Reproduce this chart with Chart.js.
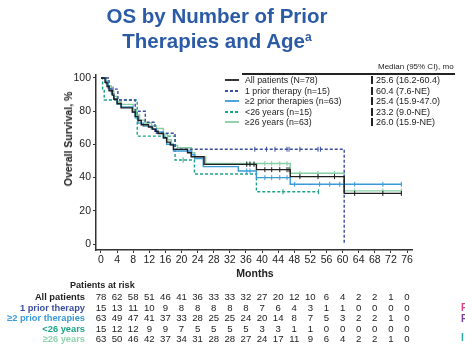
<!DOCTYPE html>
<html>
<head>
<meta charset="utf-8">
<script src="https://cdn.jsdelivr.net/npm/chart.js@4.4.0/dist/chart.umd.min.js"></script>
<style>
  body { margin: 0; width: 465px; height: 347px; overflow: hidden; background: #fff; position: relative;
         font-family: "Liberation Sans", Arial, sans-serif; color: #222; }
  #wrap { position: absolute; left: 0; top: 0; width: 465px; height: 347px; }
  .abs { position: absolute; white-space: nowrap; }
  .title { left: 0; width: 434px; text-align: center; font-weight: bold; font-size: 20.5px; color: #2b5ba6; line-height: 25px; }
  .leg { font-size: 8.8px; line-height: 10px; }
  .med { font-size: 9px; line-height: 10px; }
  .bar { position: absolute; width: 2px; height: 8px; background: #222; }
  .risklab { font-weight: bold; font-size: 9.3px; line-height: 10px; text-align: right; width: 85px; left: 0; }
  .risknum { font-size: 9.6px; line-height: 10px; width: 20px; text-align: center; }
</style>
</head>
<body>
<div id="wrap"><canvas id="km" width="465" height="347"></canvas></div>

<div class="abs title" style="top:3px">OS by Number of Prior</div>
<div class="abs title" style="top:28px">Therapies and Age<sup style="font-size:12px;vertical-align:7px;line-height:0">a</sup></div>

<div class="abs" style="left:378px;top:62px;font-size:8px;line-height:10px">Median (95% CI), mo</div>
<div class="abs" style="left:242px;top:73px;width:213px;height:1.5px;background:#222"></div>
<div id="legend"></div>

<div class="abs" id="ytitle" style="left:68px;top:139px;font-weight:bold;font-size:10.5px;transform:translate(-50%,-50%) rotate(-90deg)">Overall Survival, %</div>
<div class="abs" style="left:255px;top:273px;font-weight:bold;font-size:10.5px;transform:translate(-50%,-50%)">Months</div>
<div class="abs" style="left:70px;top:280px;font-weight:bold;font-size:9.1px;line-height:10px">Patients at risk</div>
<div id="risk"></div>

<div class="abs" style="left:461px;top:302px;font-size:10px;font-weight:bold;color:#e0408a">F</div>
<div class="abs" style="left:461px;top:313px;font-size:10px;font-weight:bold;color:#7a3d9a">P</div>
<div class="abs" style="left:461px;top:332px;font-size:10px;font-weight:bold;color:#2bb3a0">I</div>

<script>
// axes
const monthTicks = [0, 4, 8, 12, 16, 20, 24, 28, 32, 36, 40, 44, 48, 52, 56, 60, 64, 68, 72, 76];
const survTicks = [0, 20, 40, 60, 80, 100];

// KM steps: value after each event time
const allTimes = [0, 1.0, 1.5, 2.0, 2.8, 3.2, 4.0, 5.0, 7.8, 8.5, 9.2, 10.0, 11.8, 12.8, 13.6, 14.2, 15.5, 16.3, 17.2, 18.0, 21.5, 22.4, 25.6, 38.6, 47.0, 60.4, 74.7];
const allSurv = [100, 97.4, 94.9, 92.3, 89.7, 87.2, 84.6, 82.0, 79.5, 76.9, 74.4, 71.8, 70.5, 69.2, 67.9, 66.6, 64.0, 61.4, 59.7, 57.0, 55.0, 52.6, 48.0, 44.8, 40.6, 30.5, 30.5];
const allCens = [36.2, 37.0, 38.0, 40.7, 42.4, 44.4, 46.2, 46.7, 49.4, 53.9, 58.0, 63.0, 70.0, 74.6];

const onePriorTimes = [0, 2.0, 4.2, 8.5, 11.0, 13.4, 18.4, 60.4];
const onePriorSurv = [100, 93.3, 86.7, 80.0, 73.3, 66.7, 57.1, 0];
const onePriorCens = [3.0, 38.2, 41.1, 43.2, 46.2, 46.7, 49.4, 53.9, 54.5];

const twoPriorTimes = [0, 1.2, 1.8, 2.6, 3.2, 4.0, 5.0, 7.8, 8.5, 9.2, 10.5, 12.5, 13.8, 15.5, 16.3, 18.0, 22.5, 23.3, 25.4, 34.1, 38.6, 47.0, 74.7];
const twoPriorSurv = [100, 96.8, 93.7, 90.5, 87.3, 84.1, 82.5, 79.3, 76.0, 72.8, 71.0, 69.3, 67.5, 63.8, 60.1, 56.0, 53.8, 51.5, 46.6, 44.0, 40.0, 36.0, 36.0];
const twoPriorCens = [36.2, 37.0, 40.7, 42.4, 44.4, 46.2, 48.1, 54.3, 56.8, 59.3, 63.0, 70.0, 74.6];

const under26Times = [0, 0.4, 0.8, 9.0, 18.4, 23.2, 38.6, 54.0];
const under26Surv = [100, 93.3, 86.7, 65.0, 50.6, 42.2, 31.5, 31.5];
const under26Cens = [20.4, 45.2, 54.0];

const over26Times = [0, 1.2, 1.8, 2.6, 3.2, 4.0, 5.0, 8.0, 8.8, 9.6, 10.8, 12.6, 13.8, 15.5, 16.5, 17.5, 19.0, 22.5, 23.3, 26.0, 47.0, 60.4, 74.7];
const over26Surv = [100, 98.4, 95.2, 92.1, 88.9, 85.7, 84.1, 80.9, 77.7, 74.6, 72.9, 71.3, 69.6, 66.2, 62.8, 59.4, 58.0, 55.0, 52.5, 48.5, 42.6, 32.0, 32.0];
const over26Cens = [36.2, 37.0, 38.0, 40.7, 42.4, 44.4, 46.2, 49.4, 53.9, 58.0, 63.0, 70.0, 74.6];

// legend / table text
const groupLabels = ['All patients (N=78)', '1 prior therapy  (n=15)', '\u22652 prior therapies (n=63)', '<26 years (n=15)', '\u226526 years (n=63)'];
const groupMedians = ['25.6 (16.2-60.4)', '60.4 (7.6-NE)', '25.4 (15.9-47.0)', '23.2 (9.0-NE)', '26.0 (15.9-NE)'];
const riskLabels = ['All patients', '1 prior therapy', '\u22652 prior therapies', '<26 years', '\u226526 years'];
const riskAll = [78, 62, 58, 51, 46, 41, 36, 33, 33, 32, 27, 20, 12, 10, 6, 4, 2, 2, 1, 0];
const riskOnePrior = [15, 13, 11, 10, 9, 8, 8, 8, 8, 8, 7, 6, 4, 3, 1, 1, 0, 0, 0, 0];
const riskTwoPrior = [63, 49, 47, 41, 37, 33, 28, 25, 25, 24, 20, 14, 8, 7, 5, 3, 2, 2, 1, 0];
const riskUnder26 = [15, 12, 12, 9, 9, 7, 5, 5, 5, 5, 3, 3, 1, 1, 0, 0, 0, 0, 0, 0];
const riskOver26 = [63, 50, 46, 42, 37, 34, 31, 28, 28, 27, 24, 17, 11, 9, 6, 4, 2, 2, 1, 0];

const colors = ['#1e1e1e', '#3b4d9f', '#3a9ad8', '#1aa487', '#86cfa6'];
const dashes = [[], [3, 2], [], [3, 2], []];

const groups = [
  { t: allTimes, s: allSurv, c: allCens, risk: riskAll, order: 1 },
  { t: onePriorTimes, s: onePriorSurv, c: onePriorCens, risk: riskOnePrior, order: 2 },
  { t: twoPriorTimes, s: twoPriorSurv, c: twoPriorCens, risk: riskTwoPrior, order: 3 },
  { t: under26Times, s: under26Surv, c: under26Cens, risk: riskUnder26, order: 4 },
  { t: over26Times, s: over26Surv, c: over26Cens, risk: riskOver26, order: 5 },
];

function survAt(times, surv, x) {
  let v = surv[0];
  for (let i = 0; i < times.length; i++) if (times[i] <= x) v = surv[i];
  return v;
}

const datasets = [];
groups.forEach((g, i) => {
  datasets.push({
    type: 'line',
    data: g.t.map((t, k) => ({ x: t, y: g.s[k] })),
    borderColor: colors[i],
    borderWidth: 1.4,
    borderDash: dashes[i],
    stepped: 'before',
    pointRadius: 0,
    fill: false,
    order: g.order,
  });
  datasets.push({
    type: 'scatter',
    data: g.c.map(t => ({ x: t, y: survAt(g.t, g.s, t) })),
    pointStyle: 'line',
    rotation: 90,
    radius: 2.5,
    borderColor: colors[i],
    borderWidth: 1,
    order: g.order,
  });
});

const tickFont = { family: '"Liberation Sans", Arial, sans-serif', size: 10.5 };

const chart = new Chart(document.getElementById('km'), {
  type: 'line',
  data: { datasets },
  options: {
    responsive: false,
    animation: false,
    events: [],
    layout: { padding: { left: 0, top: 75, right: 53, bottom: 77 } },
    plugins: { legend: { display: false }, tooltip: { enabled: false } },
    scales: {
      x: {
        type: 'linear',
        min: -1.24,
        max: 77.24,
        afterBuildTicks: s => { s.ticks = monthTicks.map(v => ({ value: v })); },
        afterFit: s => { s.height = 20; },
        ticks: { font: tickFont, color: '#222', padding: 1, maxRotation: 0, autoSkip: false },
        grid: { drawOnChartArea: false, drawTicks: true, tickLength: 3, color: '#333' },
        border: { display: true, color: '#333', width: 1.5 },
      },
      y: {
        type: 'linear',
        min: -3.6,
        max: 101.8,
        afterBuildTicks: s => { s.ticks = survTicks.map(v => ({ value: v })); },
        afterFit: s => { s.width = 96; },
        ticks: { font: tickFont, color: '#222', padding: 2 },
        grid: { drawOnChartArea: false, drawTicks: true, tickLength: 3, color: '#333' },
        border: { display: true, color: '#333', width: 1.5 },
      },
    },
  },
});

// legend with medians
const legYs = [80, 90.5, 101, 111.5, 122];
const legend = document.getElementById('legend');
groupLabels.forEach((lab, i) => {
  const y = legYs[i];
  const dash = dashes[i].length ? 'stroke-dasharray="3 2"' : '';
  legend.insertAdjacentHTML('beforeend',
    `<svg class="abs" style="left:224px;top:${y - 3}px" width="16" height="6">` +
    `<line x1="1" y1="3" x2="15" y2="3" stroke="${colors[i]}" stroke-width="1.8" ${dash}/></svg>` +
    `<div class="abs leg" style="left:245px;top:${y - 5}px">${lab.replace('<', '&lt;')}</div>` +
    `<div class="bar" style="left:371px;top:${y - 4}px"></div>` +
    `<div class="abs med" style="left:376px;top:${y - 5}px">${groupMedians[i]}</div>`);
});

// patients at risk, columns placed on the month ticks
const riskYs = [297, 307.7, 318.3, 329, 339.3];
const riskColors = ['#1e1e1e', '#3b4d9f', '#3a9ad8', '#1aa487', '#8fd4b0'];
const risk = document.getElementById('risk');
const xs = chart.scales.x;
groups.forEach((g, i) => {
  const y = riskYs[i];
  let html = `<div class="abs risklab" style="top:${y - 5}px;color:${riskColors[i]}">${riskLabels[i].replace('<', '&lt;')}</div>`;
  g.risk.forEach((n, k) => {
    const px = xs.getPixelForValue(monthTicks[k]);
    html += `<div class="abs risknum" style="left:${px - 10}px;top:${y - 5}px">${n}</div>`;
  });
  risk.insertAdjacentHTML('beforeend', html);
});
</script>
</body>
</html>
